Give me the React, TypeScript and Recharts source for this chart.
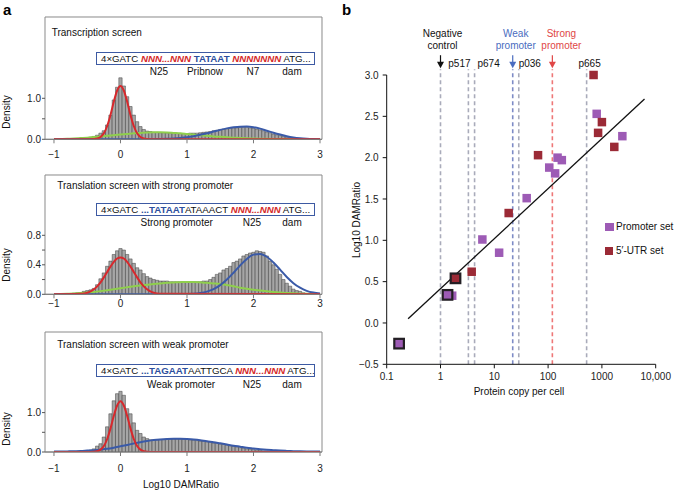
import React from "react";
import {
  ComposedChart,
  Bar,
  Line,
  XAxis,
  YAxis,
  ReferenceArea,
  ScatterChart,
  Scatter,
  ReferenceLine,
  ReferenceDot,
} from "recharts";

const FONT = '"Liberation Sans", Arial, Helvetica, sans-serif';

// ---- panel a: histogram bins (centres -1 .. 3, width 0.05) and fit grids ----
const BIN_CENTERS = Array.from({ length: 81 }, (_, i) => Math.round((-1 + i * 0.05) * 100) / 100);
const CURVE_X = Array.from({ length: 41 }, (_, i) => Math.round((-1 + i * 0.1) * 10) / 10);
const RED_X = [
  -1, -0.6, -0.55, -0.5, -0.45, -0.4, -0.35, -0.3, -0.25, -0.2, -0.15, -0.1, -0.05, 0,
  0.05, 0.1, 0.15, 0.2, 0.25, 0.3, 0.35, 0.4, 0.45, 0.5, 0.55, 0.6, 3,
];

// Transcription screen
const HIST_TRANSCRIPTION = [
  0, 0, 0.005, 0.005, 0.01, 0.01, 0.015, 0.02, 0.02, 0.03,
  0.035, 0.05, 0.07, 0.1, 0.15, 0.21, 0.35, 0.59, 0.96, 1.27,
  1.5, 1.3, 1.04, 0.8, 0.59, 0.43, 0.31, 0.24, 0.2, 0.19,
  0.17, 0.17, 0.16, 0.16, 0.15, 0.15, 0.14, 0.14, 0.14, 0.14,
  0.14, 0.15, 0.15, 0.15, 0.16, 0.17, 0.18, 0.19, 0.21, 0.22,
  0.24, 0.25, 0.26, 0.27, 0.28, 0.28, 0.29, 0.29, 0.29, 0.28,
  0.27, 0.25, 0.23, 0.21, 0.18, 0.16, 0.13, 0.11, 0.09, 0.07,
  0.05, 0.04, 0.03, 0.02, 0.015, 0.01, 0.01, 0.005, 0.005, 0, 0,
];
const RED_TRANSCRIPTION = [
  0, 0, 0, 0, 0.001, 0.005, 0.018, 0.057, 0.148, 0.325, 0.595, 0.92, 1.19, 1.3,
  1.19, 0.92, 0.595, 0.325, 0.148, 0.057, 0.018, 0.005, 0.001, 0, 0, 0, 0,
];
const GREEN_TRANSCRIPTION = [
  0.005, 0.008, 0.012, 0.02, 0.03, 0.04, 0.055, 0.07, 0.085, 0.1,
  0.115, 0.13, 0.145, 0.155, 0.165, 0.17, 0.17, 0.165, 0.155, 0.145,
  0.13, 0.115, 0.1, 0.085, 0.07, 0.06, 0.05, 0.04, 0.033, 0.026,
  0.02, 0.015, 0.012, 0.009, 0.007, 0.005, 0.004, 0.003, 0.002, 0.001, 0.001,
];
const BLUE_TRANSCRIPTION = [
  0, 0, 0, 0, 0, 0, 0, 0, 0, 0,
  0, 0, 0, 0, 0, 0.004, 0.007, 0.012, 0.021, 0.034,
  0.052, 0.077, 0.109, 0.146, 0.188, 0.23, 0.266, 0.293, 0.308, 0.31,
  0.295, 0.26, 0.21, 0.16, 0.115, 0.075, 0.045, 0.025, 0.013, 0.006, 0.003,
];

// Translation screen, strong promoter
const HIST_STRONG = [
  0, 0, 0.005, 0.005, 0.01, 0.01, 0.015, 0.02, 0.02, 0.04,
  0.05, 0.06, 0.08, 0.13, 0.21, 0.29, 0.38, 0.45, 0.54, 0.59,
  0.62, 0.6, 0.54, 0.48, 0.42, 0.36, 0.33, 0.28, 0.24, 0.22,
  0.2, 0.19, 0.18, 0.18, 0.18, 0.17, 0.17, 0.17, 0.17, 0.17,
  0.17, 0.17, 0.17, 0.17, 0.17, 0.18, 0.18, 0.2, 0.23, 0.27,
  0.29, 0.33, 0.35, 0.38, 0.43, 0.45, 0.48, 0.52, 0.54, 0.56,
  0.57, 0.59, 0.58, 0.57, 0.52, 0.45, 0.4, 0.34, 0.27, 0.2,
  0.15, 0.11, 0.07, 0.05, 0.04, 0.02, 0.01, 0.01, 0.005, 0, 0,
];
const RED_STRONG = [
  0, 0.006, 0.011, 0.022, 0.04, 0.068, 0.108, 0.162, 0.229, 0.303, 0.377, 0.441, 0.485, 0.5,
  0.485, 0.441, 0.377, 0.303, 0.229, 0.162, 0.108, 0.068, 0.04, 0.022, 0.011, 0.006, 0,
];
const GREEN_STRONG = [
  0.002, 0.004, 0.007, 0.011, 0.016, 0.023, 0.032, 0.043, 0.055, 0.068,
  0.082, 0.095, 0.108, 0.12, 0.13, 0.14, 0.148, 0.155, 0.16, 0.165,
  0.168, 0.167, 0.162, 0.155, 0.148, 0.14, 0.125, 0.108, 0.09, 0.075,
  0.062, 0.05, 0.04, 0.031, 0.024, 0.018, 0.013, 0.009, 0.006, 0.004, 0.003,
];
const BLUE_STRONG = [
  0, 0, 0, 0, 0, 0, 0, 0, 0, 0,
  0, 0, 0, 0, 0, 0, 0, 0, 0, 0,
  0.003, 0.007, 0.017, 0.036, 0.07, 0.124, 0.2, 0.293, 0.393, 0.48,
  0.538, 0.548, 0.509, 0.431, 0.334, 0.235, 0.151, 0.089, 0.047, 0.023, 0.01,
];

// Translation screen, weak promoter
const HIST_WEAK = [
  0, 0, 0.005, 0.005, 0.01, 0.01, 0.01, 0.015, 0.015, 0.02,
  0.03, 0.05, 0.08, 0.15, 0.21, 0.38, 0.64, 0.97, 1.3, 1.48,
  1.54, 1.44, 1.1, 0.97, 0.74, 0.55, 0.47, 0.38, 0.34, 0.31,
  0.31, 0.31, 0.32, 0.32, 0.33, 0.33, 0.33, 0.33, 0.32, 0.32,
  0.32, 0.31, 0.3, 0.29, 0.28, 0.27, 0.26, 0.25, 0.23, 0.22,
  0.2, 0.19, 0.17, 0.16, 0.14, 0.13, 0.11, 0.1, 0.08, 0.07,
  0.06, 0.05, 0.04, 0.03, 0.03, 0.02, 0.02, 0.01, 0.01, 0.01,
  0.005, 0, 0, 0, 0, 0, 0, 0, 0, 0, 0,
];
const RED_WEAK = [
  0, 0, 0, 0, 0.001, 0.005, 0.02, 0.06, 0.15, 0.33, 0.6, 0.92, 1.18, 1.29,
  1.18, 0.92, 0.6, 0.33, 0.15, 0.06, 0.02, 0.005, 0.001, 0, 0, 0, 0,
];
const BLUE_WEAK = [
  0.01, 0.012, 0.015, 0.02, 0.025, 0.035, 0.045, 0.06, 0.08, 0.11,
  0.145, 0.18, 0.215, 0.25, 0.28, 0.305, 0.32, 0.33, 0.335, 0.335,
  0.33, 0.32, 0.3, 0.27, 0.25, 0.22, 0.19, 0.16, 0.135, 0.11,
  0.09, 0.07, 0.055, 0.045, 0.035, 0.028, 0.022, 0.018, 0.015, 0.012, 0.01,
];

// ---- panel b ----
const PROMOTER_X = [800, 2400, 150, 180, 105, 135, 40, 6, 12.3, 1.65];
const PROMOTER_Y = [2.53, 2.26, 2.0, 1.97, 1.88, 1.81, 1.51, 1.01, 0.85, 0.33];
const UTR_X = [700, 1000, 850, 1700, 65, 18.5, 3.8];
const UTR_Y = [3.0, 2.43, 2.3, 2.13, 2.03, 1.33, 0.62];
const PROMOTER_BOXED_X = [1.35, 0.17];
const PROMOTER_BOXED_Y = [0.34, -0.25];
const UTR_BOXED_X = [1.9];
const UTR_BOXED_Y = [0.54];
const FIT_X = [0.25, 6200];
const FIT_Y = [0.05, 2.71];
const REF_X = [1, 3.3, 4.3, 22, 28.5, 120, 520];
const REF_NAME = ["", "p517", "p674", "", "p036", "", "p665"];
const X_TICKS_B = [0.1, 1, 10, 100, 1000, 10000];
const Y_TICKS_B = [-0.5, 0, 0.5, 1, 1.5, 2, 2.5, 3];

const RED = "#d8282c";
const GREEN = "#8fcf4c";
const BLUE = "#3a5aa8";
const PURPLE = "#9d5bb5";
const DARKRED = "#9b2a36";
const GREY_DASH = "#a9abba";
const BLUE_DASH = "#7d8bc6";
const RED_DASH = "#ee7777";
const WEAK_TXT = "#4a6cc0";
const STRONG_TXT = "#e04646";
const SEQ_RED = "#d42a2a";
const SEQ_BLUE = "#2d4f9e";

const REF_COLOR = [GREY_DASH, GREY_DASH, GREY_DASH, BLUE_DASH, GREY_DASH, RED_DASH, GREY_DASH];
const NAME_DX = [0, -9, 14, 0, 11, 0, 3];

const pts = (xs: number[], ys: number[]) => xs.map((x, i) => ({ x, y: ys[i] }));
const minus = (s: string) => s.replace("-", "\u2212");

const tickStyle = { fill: "#222", fontSize: 10, fontFamily: FONT };

type HistProps = {
  top: number;
  plotH: number;
  yMax: number;
  yTicks: number[];
  yLabelled: number[];
  xGap: number;
  hist: number[];
  red: number[];
  green?: number[];
  blue: number[];
};

function HistChart(p: HistProps) {
  const bars = BIN_CENTERS.map((x, i) => ({ x, d: p.hist[i] }));
  return (
    <div style={{ position: "absolute", left: 0, top: p.top - 17 }}>
      <ComposedChart
        width={330}
        height={17 + p.plotH + 24}
        data={bars}
        margin={{ top: 17, right: 8, left: 0, bottom: 2 }}
      >
        <XAxis
          type="number"
          dataKey="x"
          domain={[-1.135, 3.03]}
          ticks={[-1, 0, 1, 2, 3]}
          allowDataOverflow
          height={22}
          tickSize={4}
          tickMargin={p.xGap}
          stroke="#7a7a7a"
          tick={tickStyle}
          tickFormatter={(v: number) => minus(String(v))}
        />
        <YAxis
          type="number"
          domain={[0, p.yMax]}
          ticks={p.yTicks}
          allowDataOverflow
          width={45}
          axisLine={false}
          tickSize={3}
          tickMargin={1}
          stroke="#555"
          tick={tickStyle}
          tickFormatter={(v: number) => (p.yLabelled.includes(v) ? v.toFixed(1) : "")}
        />
        <ReferenceArea
          x1={-1.135}
          x2={3.03}
          y1={0}
          y2={p.yMax}
          fill="none"
          stroke="#8a8a8a"
          strokeWidth={1}
          ifOverflow="visible"
        />
        <Bar
          dataKey="d"
          barSize={3.3}
          fill="#a6a6a6"
          stroke="#3c3c3c"
          strokeWidth={0.5}
          isAnimationActive={false}
        />
        {p.green && (
          <Line
            data={pts(CURVE_X, p.green)}
            dataKey="y"
            type="monotone"
            stroke={GREEN}
            strokeWidth={2}
            dot={false}
            isAnimationActive={false}
          />
        )}
        <Line
          data={pts(CURVE_X, p.blue)}
          dataKey="y"
          type="monotone"
          stroke={BLUE}
          strokeWidth={2}
          dot={false}
          isAnimationActive={false}
        />
        <Line
          data={pts(RED_X, p.red)}
          dataKey="y"
          type="monotone"
          stroke={RED}
          strokeWidth={2}
          dot={false}
          isAnimationActive={false}
        />
      </ComposedChart>
    </div>
  );
}

function Txt({ x, y, children, style }: any) {
  return (
    <div
      style={{
        position: "absolute",
        left: x,
        top: y,
        transform: "translate(-50%, -50%)",
        whiteSpace: "nowrap",
        fontFamily: FONT,
        fontSize: 10,
        color: "#111",
        lineHeight: 1,
        ...style,
      }}
    >
      {children}
    </div>
  );
}

function LeftTxt({ x, y, children, style }: any) {
  return (
    <div
      style={{
        position: "absolute",
        left: x,
        top: y,
        transform: "translateY(-50%)",
        whiteSpace: "nowrap",
        fontFamily: FONT,
        fontSize: 10,
        color: "#111",
        lineHeight: 1,
        ...style,
      }}
    >
      {children}
    </div>
  );
}

function SeqBox({ top, children }: any) {
  return (
    <div
      style={{
        position: "absolute",
        left: 96,
        top,
        width: 219,
        height: 13,
        boxSizing: "border-box",
        border: "1px solid #3d5aa3",
        background: "#fff",
        fontFamily: FONT,
        fontSize: 9.7,
        lineHeight: "11px",
        paddingLeft: 4,
        whiteSpace: "nowrap",
        color: "#111",
      }}
    >
      {children}
    </div>
  );
}

const N = ({ children }: any) => (
  <span style={{ color: SEQ_RED, fontStyle: "italic", fontWeight: 700 }}>{children}</span>
);
const B = ({ children }: any) => (
  <span style={{ color: SEQ_BLUE, fontWeight: 700 }}>{children}</span>
);

const square = (fill: string) => (props: any) => (
  <rect x={props.cx - 4.25} y={props.cy - 4.25} width={8.5} height={8.5} fill={fill} />
);
const boxedSquare = (fill: string) => (props: any) => (
  <rect
    x={props.cx - 4.8}
    y={props.cy - 4.8}
    width={9.6}
    height={9.6}
    fill={fill}
    stroke="#231f24"
    strokeWidth={2.2}
  />
);

function Arrow({ cx, top, color }: { cx: number; top: number; color: string }) {
  return (
    <g>
      <line x1={cx} y1={top - 14} x2={cx} y2={top - 6} stroke={color} strokeWidth={1.2} />
      <polygon points={`${cx - 3.5},${top - 7.5} ${cx + 3.5},${top - 7.5} ${cx},${top - 1}`} fill={color} />
    </g>
  );
}

function Annotation(props: any) {
  const { cx, cy, idx } = props;
  const name = REF_NAME[idx];
  const style = { fontFamily: FONT, fontSize: 10 };
  const titled: Record<number, { lines: string[]; color: string; dx: number }> = {
    0: { lines: ["Negative", "control"], color: "#111", dx: 2 },
    3: { lines: ["Weak", "promoter"], color: WEAK_TXT, dx: 3 },
    5: { lines: ["Strong", "promoter"], color: STRONG_TXT, dx: 9 },
  };
  const t = titled[idx];
  return (
    <g>
      {name && (
        <text x={cx + NAME_DX[idx]} y={cy - 2} textAnchor="middle" fill="#111" style={style}>
          {name}
        </text>
      )}
      {t && (
        <g>
          <Arrow cx={cx} top={cy} color={t.color} />
          <text x={cx + t.dx} y={cy - 32.5} textAnchor="middle" fill={t.color} style={style}>
            {t.lines[0]}
          </text>
          <text x={cx + t.dx} y={cy - 20.5} textAnchor="middle" fill={t.color} style={style}>
            {t.lines[1]}
          </text>
        </g>
      )}
    </g>
  );
}

function PanelB() {
  return (
    <div style={{ position: "absolute", left: 340, top: 0 }}>
      <ScatterChart width={335} height={400} margin={{ top: 75, right: 19.3, left: 0, bottom: 5.7 }}>
        <XAxis
          type="number"
          dataKey="x"
          scale="log"
          domain={[0.1, 10000]}
          ticks={X_TICKS_B}
          height={30}
          tickSize={4}
          tickMargin={5}
          stroke="#111"
          tick={tickStyle}
          tickFormatter={(v: number) => (v >= 10000 ? "10,000" : String(v))}
        />
        <YAxis
          type="number"
          dataKey="y"
          domain={[-0.5, 3]}
          ticks={Y_TICKS_B}
          width={46.7}
          tickSize={4}
          tickMargin={4}
          stroke="#111"
          tick={tickStyle}
          tickFormatter={(v: number) => minus(v.toFixed(1))}
        />
        {REF_X.map((x, i) => (
          <ReferenceLine
            key={`l${i}`}
            segment={[
              { x, y: -0.5 },
              { x, y: 3.07 },
            ]}
            stroke={REF_COLOR[i]}
            strokeWidth={1.6}
            strokeDasharray="4 3"
            ifOverflow="visible"
          />
        ))}
        {REF_X.map((x, i) => (
          <ReferenceDot
            key={`a${i}`}
            x={x}
            y={3.07}
            ifOverflow="visible"
            shape={(p: any) => <Annotation cx={p.cx} cy={p.cy} idx={i} />}
          />
        ))}
        <ReferenceLine
          segment={[
            { x: FIT_X[0], y: FIT_Y[0] },
            { x: FIT_X[1], y: FIT_Y[1] },
          ]}
          stroke="#111"
          strokeWidth={1.3}
          ifOverflow="visible"
        />
        <Scatter data={pts(PROMOTER_X, PROMOTER_Y)} shape={square(PURPLE)} isAnimationActive={false} />
        <Scatter data={pts(UTR_X, UTR_Y)} shape={square(DARKRED)} isAnimationActive={false} />
        <Scatter
          data={pts(PROMOTER_BOXED_X, PROMOTER_BOXED_Y)}
          shape={boxedSquare(PURPLE)}
          isAnimationActive={false}
        />
        <Scatter data={pts(UTR_BOXED_X, UTR_BOXED_Y)} shape={boxedSquare(DARKRED)} isAnimationActive={false} />
      </ScatterChart>
    </div>
  );
}

export default function App() {
  return (
    <div
      style={{
        position: "absolute",
        left: 0,
        top: 0,
        width: 675,
        height: 491,
        background: "#fff",
        overflow: "hidden",
        fontFamily: FONT,
      }}
    >
      <HistChart
        top={17}
        plotH={122.3}
        yMax={2.983}
        yTicks={[0, 0.5, 1]}
        yLabelled={[0, 1]}
        xGap={8}
        hist={HIST_TRANSCRIPTION}
        red={RED_TRANSCRIPTION}
        green={GREEN_TRANSCRIPTION}
        blue={BLUE_TRANSCRIPTION}
      />
      <HistChart
        top={175}
        plotH={119.3}
        yMax={1.618}
        yTicks={[0, 0.2, 0.4, 0.6, 0.8]}
        yLabelled={[0, 0.4, 0.8]}
        xGap={2}
        hist={HIST_STRONG}
        red={RED_STRONG}
        green={GREEN_STRONG}
        blue={BLUE_STRONG}
      />
      <HistChart
        top={331.7}
        plotH={120}
        yMax={3.046}
        yTicks={[0, 0.5, 1]}
        yLabelled={[0, 1]}
        xGap={9}
        hist={HIST_WEAK}
        red={RED_WEAK}
        blue={BLUE_WEAK}
      />

      {/* panel a texts */}
      <div style={{ position: "absolute", left: 3, top: 1, fontSize: 15, fontWeight: 700, fontFamily: FONT }}>a</div>
      <div style={{ position: "absolute", left: 342, top: 1, fontSize: 15, fontWeight: 700, fontFamily: FONT }}>b</div>

      <LeftTxt x={51.7} y={33}>Transcription screen</LeftTxt>
      <SeqBox top={51.5}>
        4×GATC <N>NNN...NNN</N> <B>TATAAT</B> <N>NNNNNNN</N> ATG...
      </SeqBox>
      <Txt x={159} y={71.7}>N25</Txt>
      <Txt x={205} y={71.7}>Pribnow</Txt>
      <Txt x={253} y={71.7}>N7</Txt>
      <Txt x={292} y={71.7}>dam</Txt>
      <Txt x={7} y={112} style={{ transform: "translate(-50%, -50%) rotate(-90deg)" }}>Density</Txt>

      <LeftTxt x={57.3} y={186}>Translation screen with strong promoter</LeftTxt>
      <SeqBox top={203.3}>
        4×GATC <B>...TATAAT</B>ATAAACT <N>NNN...NNN</N> ATG...
      </SeqBox>
      <Txt x={176.7} y={223.3}>Strong promoter</Txt>
      <Txt x={252} y={223.3}>N25</Txt>
      <Txt x={292} y={223.3}>dam</Txt>
      <Txt x={7} y={265} style={{ transform: "translate(-50%, -50%) rotate(-90deg)" }}>Density</Txt>

      <LeftTxt x={57.3} y={345}>Translation screen with weak promoter</LeftTxt>
      <SeqBox top={364.3}>
        4×GATC <B>...TAGAAT</B>AATTGCA <N>NNN...NNN</N> ATG...
      </SeqBox>
      <Txt x={181} y={385}>Weak promoter</Txt>
      <Txt x={252} y={385}>N25</Txt>
      <Txt x={292} y={385}>dam</Txt>
      <Txt x={7} y={429} style={{ transform: "translate(-50%, -50%) rotate(-90deg)" }}>Density</Txt>
      <Txt x={181} y={485}>Log10 DAMRatio</Txt>

      <PanelB />

      {/* panel b texts */}
      <Txt x={357} y={220} style={{ transform: "translate(-50%, -50%) rotate(-90deg)" }}>Log10 DAMRatio</Txt>
      <Txt x={519} y={391.7}>Protein copy per cell</Txt>
      <div style={{ position: "absolute", left: 605.3, top: 222.7, width: 8.5, height: 8.5, background: PURPLE }} />
      <LeftTxt x={616} y={227}>Promoter set</LeftTxt>
      <div style={{ position: "absolute", left: 604.8, top: 246.7, width: 8.5, height: 8.5, background: DARKRED }} />
      <LeftTxt x={616} y={251}>5′-UTR set</LeftTxt>
    </div>
  );
}
